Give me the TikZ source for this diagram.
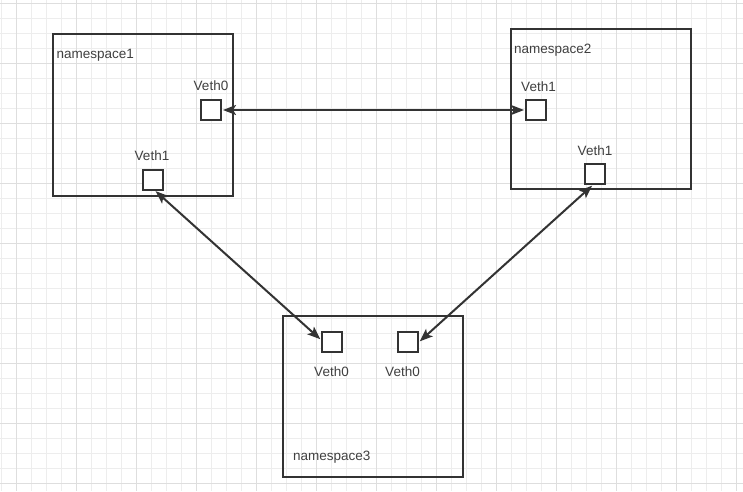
\documentclass[tikz,border=0pt]{standalone}
\usepackage{fontspec}
\setmainfont{Liberation Sans}
\usetikzlibrary{arrows.meta}
\definecolor{ink}{HTML}{333333}
\definecolor{txt}{HTML}{404040}
\definecolor{gridminor}{HTML}{EDEDED}
\definecolor{gridmajor}{HTML}{DEDEDE}
\begin{document}
\begin{tikzpicture}[x=1pt,y=-1pt,
  nsbox/.style={draw=ink,line width=2pt,inner sep=0pt,minimum width=#1},
  port/.style={draw=ink,line width=2pt,fill=white,inner sep=0pt,minimum width=20pt,minimum height=20pt},
  lbl/.style={text=txt,font=\fontsize{13.5}{15}\selectfont,inner sep=0pt},
  link/.style={draw=ink,line width=2pt,shorten <=1pt,shorten >=1pt,{Stealth[length=13pt,width=10pt,inset=3pt]}-{Stealth[length=13pt,width=10pt,inset=3pt]}}
]
\useasboundingbox (0,0) rectangle (743,491);
\fill[white] (0,0) rectangle (743,491);
% grid
\foreach \i in {0,...,49} {
  \pgfmathsetmacro{\xx}{1.7+15*\i}
  \draw[gridminor,line width=1pt] (\xx,0) -- (\xx,491);
}
\foreach \i in {0,...,32} {
  \pgfmathsetmacro{\yy}{3.3+15*\i}
  \draw[gridminor,line width=1pt] (0,\yy) -- (743,\yy);
}
\foreach \i in {0,...,12} {
  \pgfmathsetmacro{\xx}{16.7+60*\i}
  \draw[gridmajor,line width=1pt] (\xx,0) -- (\xx,491);
}
\foreach \i in {0,...,8} {
  \pgfmathsetmacro{\yy}{3.3+60*\i}
  \draw[gridmajor,line width=1pt] (0,\yy) -- (743,\yy);
}
% namespaces
\node[nsbox=180pt,minimum height=162pt] (ns1) at (143,115) {};
\node[nsbox=180pt,minimum height=160pt] (ns2) at (601,109) {};
\node[nsbox=180pt,minimum height=161pt] (ns3) at (373,396.5) {};
\node[lbl,anchor=west] (ns1l) at (56.5,55.5) {namespace1};
\node[lbl,anchor=west] (ns2l) at (514,50) {namespace2};
\node[lbl,anchor=west] (ns3l) at (293,457) {namespace3};
% ports
\node[port] (a0) at (211,110) {};
\node[port] (a1) at (153,179.5) {};
\node[port] (b1) at (536,110) {};
\node[port] (b2) at (595,174) {};
\node[port] (c0) at (332,342) {};
\node[port] (c1) at (408,342) {};
\node[lbl] (a0l) at (211,86) {Veth0};
\node[lbl] (a1l) at (152,156) {Veth1};
\node[lbl] (b1l) at (538.5,86.5) {Veth1};
\node[lbl] (b2l) at (595,150.5) {Veth1};
\node[lbl] (c0l) at (331.5,372) {Veth0};
\node[lbl] (c1l) at (402.5,372) {Veth0};
% links
\draw[link] (a0.east) -- (b1.west);
\draw[link] (a1.-80) -- (c0.169);
\draw[link] (b2.259) -- (c1.east);
\end{tikzpicture}
\end{document}
